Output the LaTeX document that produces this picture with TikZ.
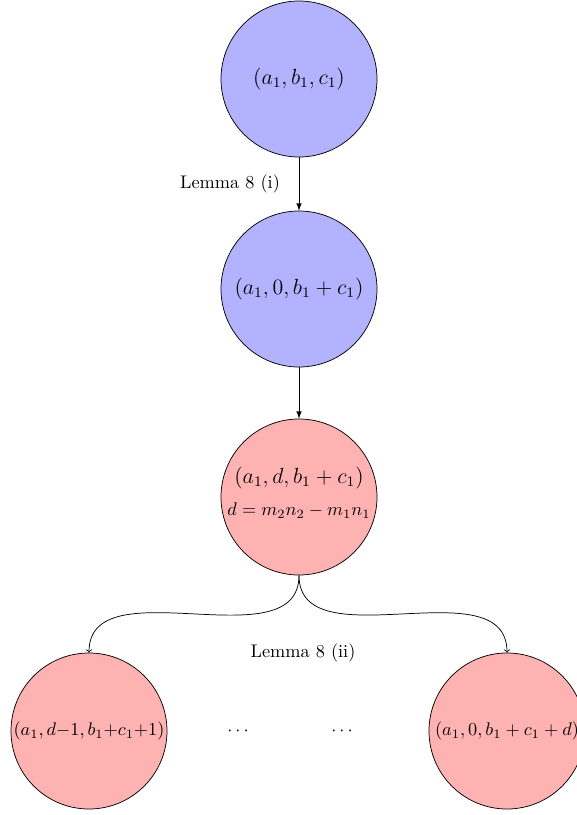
\documentclass[tikz,border=0pt]{standalone}
\usetikzlibrary{arrows}
\begin{document}
\begin{tikzpicture}[x=0.5472pt,y=-0.5472pt,
  bluestate/.style={circle,draw,fill=blue!30,minimum size=3cm,inner sep=0pt,font=\large},
  redstate/.style={circle,draw,fill=red!30,minimum size=3cm,inner sep=0pt},
  straightarrow/.style={-latex},
  curvearrow/.style={->,out=-90,in=90}]
\useasboundingbox (0,0) rectangle (577,815);
\node[bluestate] (n1) at (299,79) {$(a_1,b_1,c_1)$};
\node[bluestate] (n2) at (299,289) {$(a_1,0,b_1+c_1)$};
\node[redstate] (n3) at (299,497) {\begin{tabular}{@{}c@{}}{\large$(a_1,d,b_1+c_1)$}\\[6pt] $d=m_2n_2-m_1n_1$\rule[-6.3pt]{0pt}{6.3pt}\end{tabular}};
\node[redstate] (n4) at (89,731) {$(a_1,d{-}1,b_1{+}c_1{+}1)$};
\node[redstate] (n5) at (507,731) {$(a_1,0,b_1+c_1+d)$};
\node (l1) at (230,184) {Lemma 8 (i)};
\node (l2) at (303,653) {Lemma 8 (ii)};
\node (d1) at (238,731) {$\cdots$};
\node (d2) at (342,731) {$\cdots$};
\draw[straightarrow] (n1) -- (n2);
\draw[straightarrow] (n2) -- (n3);
\draw[curvearrow] (n3.south) to (n4.north);
\draw[curvearrow] (n3.south) to (n5.north);
\end{tikzpicture}
\end{document}
